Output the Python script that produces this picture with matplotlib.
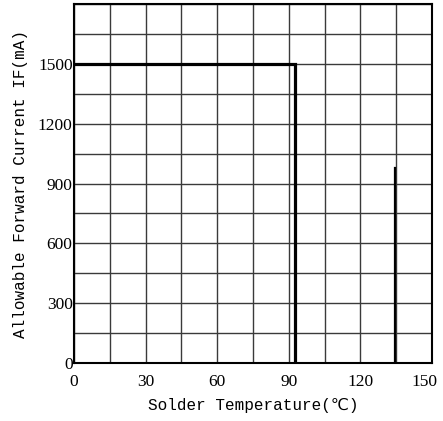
import matplotlib
matplotlib.use("Agg")
import matplotlib.pyplot as plt
import matplotlib.transforms as mtransforms
import numpy as np

# derating curve
temp_main = [0, 92.5, 92.5]
current_main = [1500, 1500, 0]
temp_short = [134.5, 134.5]
current_short = [980, 0]

x_ticks = [0, 30, 60, 90, 120, 150]
y_ticks = [0, 300, 600, 900, 1200, 1500]

fig = plt.figure(figsize=(4.43, 4.21), dpi=100)
ax = fig.add_axes([0.167, 0.138, 0.808, 0.852])

ax.set_xlim(0, 150)
ax.set_ylim(0, 1800)
ax.set_xticks(x_ticks)
ax.set_yticks(y_ticks)
ax.set_xticks(np.arange(0, 151, 15), minor=True)
ax.set_yticks(np.arange(0, 1801, 150), minor=True)
ax.grid(which="both", color="#3a3a3a", linewidth=1.0)
ax.set_axisbelow(True)
ax.tick_params(which="both", length=0)
ax.tick_params(axis="x", pad=8)
ax.tick_params(axis="y", pad=1)
for lab in ax.get_xticklabels() + ax.get_yticklabels():
    lab.set_family(["Liberation Serif", "DejaVu Serif"])
    lab.set_fontsize(12.5)

# keep the last x label inside the figure
last = ax.get_xticklabels()[-1]
last.set_transform(last.get_transform() +
                   mtransforms.ScaledTranslation(-7 / 100, 0, fig.dpi_scale_trans))

for s in ax.spines.values():
    s.set_color("black")
    s.set_linewidth(1.5)

ax.plot(temp_main, current_main, color="black", linewidth=2.3, solid_joinstyle="miter")
ax.plot(temp_short, current_short, color="black", linewidth=1.6)

ax.set_xlabel("Solder Temperature(℃)", family=["Liberation Mono", "DejaVu Sans"],
              fontsize=11.5, labelpad=6)
ax.set_ylabel("Allowable Forward Current IF(mA)", family=["Liberation Mono", "DejaVu Sans"],
              fontsize=11.5, labelpad=7)

fig.savefig("out.png", dpi=100)
